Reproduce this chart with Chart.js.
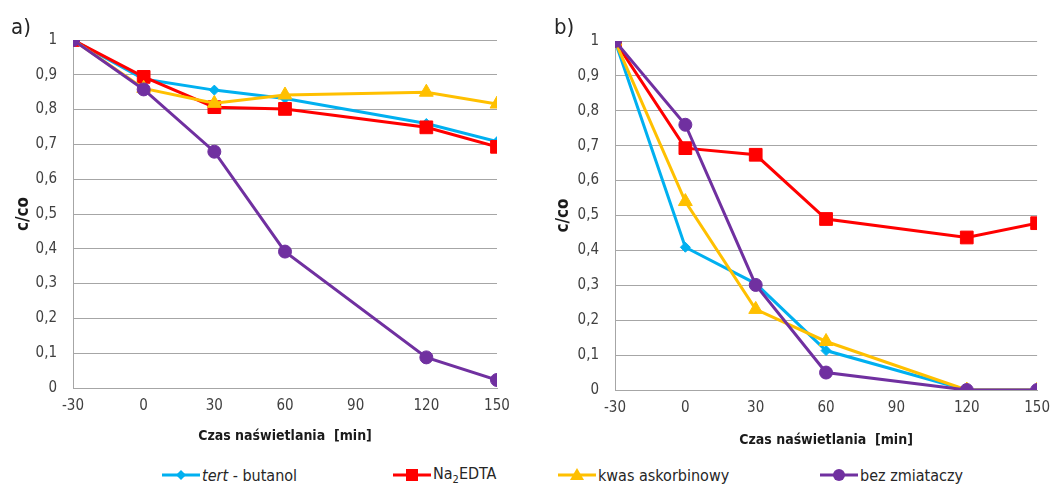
<!DOCTYPE html>
<html lang="pl">
<head>
  <meta charset="UTF-8">
  <title>c/co – czas naświetlania</title>
  <script src="https://cdn.jsdelivr.net/npm/chart.js"></script>
  <style>
    body {
      margin: 0;
      background: #ffffff;
      font-family: 'Liberation Sans Narrow', 'DejaVu Sans Condensed', sans-serif;
      color: #262626;
    }
    #wrap {
      position: relative;
      width: 1059px;
      height: 485px;
      overflow: hidden;
    }
    .panel {
      position: absolute;
      top: 0;
      height: 455px;
    }
    #panelA { left: 0; width: 530px; }
    #panelB { left: 540px; width: 519px; }
    .tag {
      position: absolute;
      font-size: 22px;
      line-height: 22px;
      color: #262626;
    }
    #legend .item {
      position: absolute;
      top: 466px;
      height: 18px;
      display: flex;
      align-items: center;
      font-size: 16px;
      color: #262626;
      white-space: nowrap;
    }
    #legend svg { margin-right: 2px; }
    sub { font-size: 11px; vertical-align: -4px; }
  </style>
</head>
<body>
<div id="wrap">
  <div id="panelA" class="panel"><canvas id="chartA"></canvas></div>
  <div id="panelB" class="panel"><canvas id="chartB"></canvas></div>
  <div class="tag" style="left:11px; top:16px;">a)</div>
  <div class="tag" style="left:554px; top:16px;">b)</div>
  <div id="legend"></div>
</div>

<script>
  // irradiation time [min]
  const timeMin = [-30, 0, 30, 60, 120, 150];
  const xTicks = [-30, 0, 30, 60, 90, 120, 150];

  // panel a)
  const aTert  = [1, 0.888, 0.856, 0.832, 0.760, 0.708];
  const aEdta  = [1, 0.894, 0.807, 0.802, 0.749, 0.693];
  const aKwas  = [1, 0.861, 0.818, 0.842, 0.850, 0.816];
  const aBez   = [1, 0.858, 0.679, 0.392, 0.088, 0.023];

  // panel b)
  const bTert  = [1, 0.409, 0.305, 0.113, 0, 0];
  const bEdta  = [1, 0.693, 0.674, 0.490, 0.437, 0.478];
  const bKwas  = [1, 0.540, 0.231, 0.139, 0, 0];
  const bBez   = [1, 0.760, 0.301, 0.050, 0, 0];

  const seriesLabels = ['<i>tert</i> - butanol', 'Na<sub>2</sub>EDTA', 'kwas askorbinowy', 'bez zmiataczy'];
  const seriesColors = ['#00B0F0', '#FF0000', '#FFC000', '#7030A0'];
  const seriesMarkers = ['rectRot', 'rect', 'triangle', 'circle'];
  const markerSizes = [5, 9, 8, 6.5];

  const FONT = "'Liberation Sans Narrow', 'DejaVu Sans Condensed', sans-serif";
  const comma = v => String(Math.round(v * 10) / 10).replace('.', ',');

  function makeDatasets(values) {
    return values.map((vals, i) => ({
      label: seriesLabels[i],
      data: timeMin.map((t, k) => ({ x: t, y: vals[k] })),
      borderColor: seriesColors[i],
      backgroundColor: seriesColors[i],
      borderWidth: 3,
      pointStyle: seriesMarkers[i],
      pointRadius: markerSizes[i],
      pointBorderWidth: 1,
      tension: 0,
      order: 3 - i   // later series painted on top
    }));
  }

  function makeChart(id, values, geo) {
    return new Chart(document.getElementById(id), {
      type: 'line',
      data: { datasets: makeDatasets(values) },
      options: {
        responsive: true,
        maintainAspectRatio: false,
        animation: false,
        layout: { padding: { top: geo.top, right: geo.right, bottom: 5, left: 0 } },
        plugins: { legend: { display: false }, tooltip: { enabled: false } },
        scales: {
          x: {
            type: 'linear',
            min: -30, max: 150,
            afterBuildTicks: s => { s.ticks = xTicks.map(v => ({ value: v })); },
            afterFit: s => { s.height = geo.xHeight; },
            grid: { display: true, drawOnChartArea: false, drawTicks: false },
            border: { display: true, color: '#A6A6A6', width: 1 },
            ticks: { padding: 9, color: '#404040', font: { family: FONT, size: 15 }, maxRotation: 0 },
            title: {
              display: true,
              text: 'Czas naświetlania  [min]',
              color: '#1a1a1a',
              font: { family: FONT, size: 14, weight: 'bold' },
              padding: { top: 0, bottom: geo.titlePad }
            }
          },
          y: {
            min: 0, max: 1,
            afterFit: s => { s.width = geo.yWidth; },
            grid: { color: '#A6A6A6', lineWidth: 1, drawTicks: false },
            border: { display: true, color: '#A6A6A6', width: 1 },
            ticks: { stepSize: 0.1, padding: 16, color: '#404040', font: { family: FONT, size: 15 }, callback: comma },
            title: {
              display: true,
              text: 'c/co',
              color: '#1a1a1a',
              font: { family: FONT, size: 17, weight: 'bold' },
              padding: { top: 13, bottom: 0 }
            }
          }
        }
      }
    });
  }

  makeChart('chartA', [aTert, aEdta, aKwas, aBez], { top: 40, right: 33, yWidth: 73, xHeight: 62, titlePad: 5 });
  makeChart('chartB', [bTert, bEdta, bKwas, bBez], { top: 41, right: 13, yWidth: 75, xHeight: 60, titlePad: 1 });

  // shared legend under both panels
  const legendX = [162, 393, 558, 820];
  function markerSvg(i) {
    const c = seriesColors[i];
    let m = '';
    if (seriesMarkers[i] === 'rectRot') m = `<polygon points="19,4 24,9 19,14 14,9" fill="${c}"/>`;
    if (seriesMarkers[i] === 'rect') m = `<rect x="13" y="3" width="12" height="12" fill="${c}"/>`;
    if (seriesMarkers[i] === 'triangle') m = `<polygon points="19,2 26,14 12,14" fill="${c}"/>`;
    if (seriesMarkers[i] === 'circle') m = `<circle cx="19" cy="9" r="6" fill="${c}"/>`;
    return `<svg width="38" height="18"><line x1="0" y1="9" x2="38" y2="9" stroke="${c}" stroke-width="3"/>${m}</svg>`;
  }
  const legend = document.getElementById('legend');
  seriesLabels.forEach((lab, i) => {
    const d = document.createElement('div');
    d.className = 'item';
    d.style.left = legendX[i] + 'px';
    d.innerHTML = markerSvg(i) + '<span>' + lab + '</span>';
    legend.appendChild(d);
  });
</script>
</body>
</html>
